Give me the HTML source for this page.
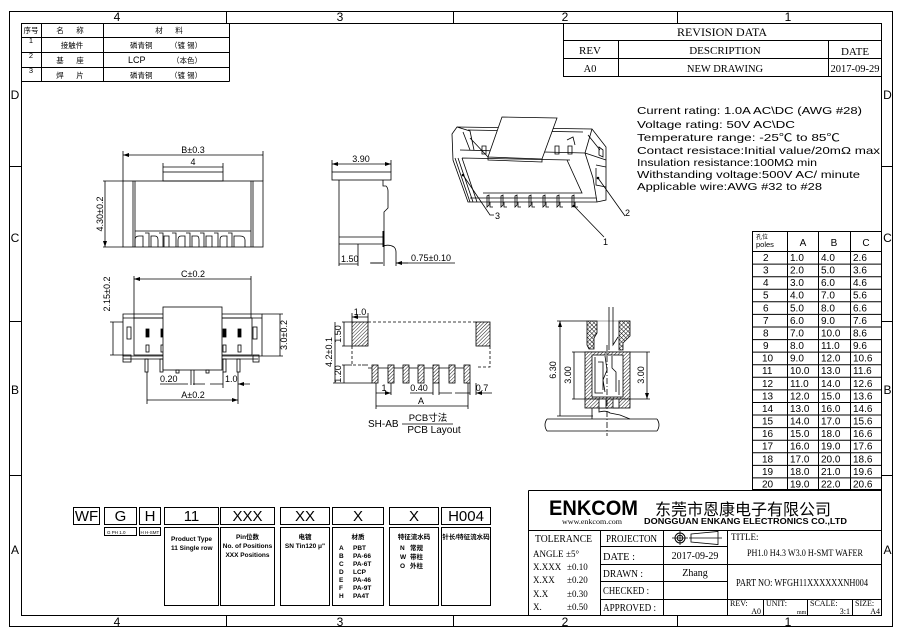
<!DOCTYPE html>
<html><head><meta charset="utf-8">
<style>
html,body{margin:0;padding:0;background:#fff;}
svg{display:block;}
text{font-family:"Liberation Sans","Noto Sans CJK SC",sans-serif;fill:#000;}
.s{font-family:"Liberation Serif","Noto Serif CJK SC",serif;}
.d{font-size:9px;}
</style></head><body>
<svg width="903" height="638" viewBox="0 0 903 638" xmlns="http://www.w3.org/2000/svg">
<defs>
<marker id="a" viewBox="0 0 6 4" refX="6" refY="2" markerWidth="6" markerHeight="4" orient="auto-start-reverse" markerUnits="userSpaceOnUse"><path d="M0,0 L6,2 L0,4 z" fill="#000"/></marker>
<pattern id="h" width="2.5" height="2.5" patternUnits="userSpaceOnUse" patternTransform="rotate(45)"><rect width="2.5" height="2.5" fill="#fff"/><line x1="0" y1="0" x2="0" y2="2.5" stroke="#000" stroke-width="0.9"/></pattern>
<pattern id="x" width="3" height="3" patternUnits="userSpaceOnUse" patternTransform="rotate(45)"><rect width="3" height="3" fill="#fff"/><path d="M0,0 V3 M0,0 H3" stroke="#000" stroke-width="0.9"/></pattern>
</defs>

<!-- FRAME -->
<g fill="none" stroke="#000" stroke-width="1">
<rect x="9.5" y="11.5" width="883" height="615"/>
<rect x="21.5" y="23.5" width="860" height="592"/>
<path d="M226.5,11.5V23.5M453.5,11.5V23.5M677.5,11.5V23.5M226.5,615.5V626.5M453.5,615.5V626.5M677.5,615.5V626.5"/>
<path d="M9.5,166.5H21.5M9.5,321.5H21.5M9.5,475.5H21.5M881.5,166.5H892.5M881.5,321.5H892.5M881.5,475.5H892.5"/>
</g>
<g font-size="12" text-anchor="middle">
<text x="117" y="21">4</text><text x="340" y="21">3</text><text x="565" y="21">2</text><text x="788" y="21">1</text>
<text x="117" y="626">4</text><text x="340" y="626">3</text><text x="565" y="626">2</text><text x="788" y="626">1</text>
<text x="15" y="99">D</text><text x="15" y="242">C</text><text x="15" y="394">B</text><text x="15" y="554">A</text>
<text x="887.5" y="99">D</text><text x="887.5" y="242">C</text><text x="887.5" y="394">B</text><text x="887.5" y="554">A</text>
</g>

<!-- TOP-LEFT MATERIAL TABLE -->
<g fill="none" stroke="#000" stroke-width="1">
<path d="M21.5,37.5H229.5M21.5,52.5H229.5M21.5,67.5H229.5M21.5,81.5H229.5M41.5,23.5V81.5M103.5,23.5V81.5M229.5,23.5V81.5"/>
</g>
<g font-size="7.5" text-anchor="middle">
<text x="31" y="33">序号</text><text x="60" y="33">名</text><text x="80" y="33">称</text>
<text x="159" y="33">材</text><text x="179" y="33">料</text>
<text x="31" y="43">1</text><text x="72" y="48">接触件</text>
<text x="31" y="58">2</text><text x="60" y="63">基</text><text x="80" y="63">座</text>
<text x="31" y="73">3</text><text x="60" y="78">焊</text><text x="80" y="78">片</text>
</g>
<g font-size="7.5">
<text x="130" y="48">磷青铜</text><text x="170" y="48">（镀 锡）</text>
<text x="128" y="63" font-size="9">LCP</text><text x="172" y="63">（本色）</text>
<text x="130" y="78">磷青铜</text><text x="170" y="78">（镀 锡）</text>
</g>

<!-- REVISION TABLE -->
<g fill="none" stroke="#000" stroke-width="1">
<path d="M563.5,23.5V76.5H881.5M563.5,40.5H881.5M563.5,58.5H881.5M618.5,40.5V76.5M828.5,40.5V76.5"/>
</g>
<g class="s" text-anchor="middle">
<text class="s" x="722" y="36" font-size="12">REVISION DATA</text>
<text class="s" x="590" y="54" font-size="11">REV</text>
<text class="s" x="725" y="54" font-size="11">DESCRIPTION</text>
<text class="s" x="855" y="55" font-size="11">DATE</text>
<text class="s" x="590" y="72" font-size="10.5">A0</text>
<text class="s" x="725" y="72" font-size="10.5">NEW DRAWING</text>
<text class="s" x="855" y="72" font-size="10.5">2017-09-29</text>
</g>

<!-- SPEC TEXT -->
<g font-size="10.5" fill="#111">
<text x="637" y="114" textLength="225" lengthAdjust="spacingAndGlyphs">Current rating: 1.0A AC\DC (AWG #28)</text>
<text x="637" y="128" textLength="158" lengthAdjust="spacingAndGlyphs">Voltage rating: 50V AC\DC</text>
<text x="637" y="141" textLength="203" lengthAdjust="spacingAndGlyphs">Temperature range: -25℃ to 85℃</text>
<text x="637" y="154" textLength="243" lengthAdjust="spacingAndGlyphs">Contact resistace:Initial value/20mΩ max</text>
<text x="637" y="166" textLength="180" lengthAdjust="spacingAndGlyphs">Insulation resistance:100MΩ min</text>
<text x="637" y="178" textLength="223" lengthAdjust="spacingAndGlyphs">Withstanding voltage:500V AC/ minute</text>
<text x="637" y="190" textLength="185" lengthAdjust="spacingAndGlyphs">Applicable wire:AWG #32 to #28</text>
</g>

<!-- POLE TABLE -->
<g fill="none" stroke="#000" stroke-width="1">
<rect x="752.5" y="231.5" width="129" height="258"/>
<path d="M787.5,231.5V490M818.5,231.5V490M850.5,231.5V490M752.5,251.5H881.5"/>
<path d="M752.5,264.1H881.5M752.5,276.7H881.5M752.5,289.2H881.5M752.5,301.8H881.5M752.5,314.4H881.5M752.5,327H881.5M752.5,339.6H881.5M752.5,352.1H881.5M752.5,364.7H881.5M752.5,377.3H881.5M752.5,389.9H881.5M752.5,402.5H881.5M752.5,415H881.5M752.5,427.6H881.5M752.5,440.2H881.5M752.5,452.8H881.5M752.5,465.4H881.5M752.5,477.9H881.5"/>
</g>
<text x="756" y="239" font-size="6" fill="#557">孔位</text>
<text x="756" y="247" font-size="7.5">poles</text>
<g font-size="10" text-anchor="middle"><text x="803" y="246">A</text><text x="834" y="246">B</text><text x="866" y="246">C</text></g>
<g font-size="10">
<text x="763" y="261">2</text><text x="790" y="261">1.0</text><text x="821" y="261">4.0</text><text x="853" y="261">2.6</text>
<text x="763" y="273.6">3</text><text x="790" y="273.6">2.0</text><text x="821" y="273.6">5.0</text><text x="853" y="273.6">3.6</text>
<text x="763" y="286.2">4</text><text x="790" y="286.2">3.0</text><text x="821" y="286.2">6.0</text><text x="853" y="286.2">4.6</text>
<text x="763" y="298.7">5</text><text x="790" y="298.7">4.0</text><text x="821" y="298.7">7.0</text><text x="853" y="298.7">5.6</text>
<text x="763" y="311.3">6</text><text x="790" y="311.3">5.0</text><text x="821" y="311.3">8.0</text><text x="853" y="311.3">6.6</text>
<text x="763" y="323.9">7</text><text x="790" y="323.9">6.0</text><text x="821" y="323.9">9.0</text><text x="853" y="323.9">7.6</text>
<text x="763" y="336.5">8</text><text x="790" y="336.5">7.0</text><text x="821" y="336.5">10.0</text><text x="853" y="336.5">8.6</text>
<text x="763" y="349.1">9</text><text x="790" y="349.1">8.0</text><text x="821" y="349.1">11.0</text><text x="853" y="349.1">9.6</text>
<text x="762" y="361.6">10</text><text x="790" y="361.6">9.0</text><text x="821" y="361.6">12.0</text><text x="853" y="361.6">10.6</text>
<text x="762" y="374.2">11</text><text x="790" y="374.2">10.0</text><text x="821" y="374.2">13.0</text><text x="853" y="374.2">11.6</text>
<text x="762" y="386.8">12</text><text x="790" y="386.8">11.0</text><text x="821" y="386.8">14.0</text><text x="853" y="386.8">12.6</text>
<text x="762" y="399.4">13</text><text x="790" y="399.4">12.0</text><text x="821" y="399.4">15.0</text><text x="853" y="399.4">13.6</text>
<text x="762" y="412">14</text><text x="790" y="412">13.0</text><text x="821" y="412">16.0</text><text x="853" y="412">14.6</text>
<text x="762" y="424.5">15</text><text x="790" y="424.5">14.0</text><text x="821" y="424.5">17.0</text><text x="853" y="424.5">15.6</text>
<text x="762" y="437.1">16</text><text x="790" y="437.1">15.0</text><text x="821" y="437.1">18.0</text><text x="853" y="437.1">16.6</text>
<text x="762" y="449.7">17</text><text x="790" y="449.7">16.0</text><text x="821" y="449.7">19.0</text><text x="853" y="449.7">17.6</text>
<text x="762" y="462.3">18</text><text x="790" y="462.3">17.0</text><text x="821" y="462.3">20.0</text><text x="853" y="462.3">18.6</text>
<text x="762" y="474.9">19</text><text x="790" y="474.9">18.0</text><text x="821" y="474.9">21.0</text><text x="853" y="474.9">19.6</text>
<text x="762" y="487.4">20</text><text x="790" y="487.4">19.0</text><text x="821" y="487.4">22.0</text><text x="853" y="487.4">20.6</text>
</g>

<!-- PART NUMBER BOXES -->
<g fill="none" stroke="#000" stroke-width="1">
<rect x="73.5" y="507.5" width="26" height="17"/>
<rect x="104.5" y="507.5" width="32" height="17"/>
<rect x="139.5" y="507.5" width="21" height="17"/>
<rect x="164.5" y="507.5" width="54" height="17"/>
<rect x="220.5" y="507.5" width="54" height="17"/>
<rect x="280.5" y="507.5" width="49" height="17"/>
<rect x="332.5" y="507.5" width="51" height="17"/>
<rect x="389.5" y="507.5" width="49" height="17"/>
<rect x="441.5" y="507.5" width="49" height="17"/>
<rect x="104.5" y="527.5" width="32" height="8"/>
<rect x="139.5" y="527.5" width="21" height="8"/>
<rect x="164.5" y="527.5" width="54" height="78"/>
<rect x="220.5" y="527.5" width="54" height="78"/>
<rect x="280.5" y="527.5" width="49" height="78"/>
<rect x="332.5" y="527.5" width="51" height="78"/>
<rect x="389.5" y="527.5" width="49" height="78"/>
<rect x="441.5" y="527.5" width="49" height="78"/>
</g>
<g font-size="15" text-anchor="middle">
<text x="86.5" y="521">WF</text><text x="120.5" y="521">G</text><text x="150" y="521">H</text>
<text x="191.5" y="521">11</text><text x="247.5" y="521">XXX</text><text x="305" y="521">XX</text>
<text x="358" y="521">X</text><text x="414" y="521">X</text><text x="466" y="521">H004</text>
</g>
<g font-size="4.5"><text x="107" y="534">G  PH 1.0</text><text x="140.5" y="534">H H-SMT</text></g>
<g font-size="6.5" font-weight="bold">
<text x="171" y="541">Product Type</text><text x="171" y="550">11  Single row</text>
<g text-anchor="middle"><text x="247.5" y="539">Pin位数</text><text x="247.5" y="548">No. of Positions</text><text x="247.5" y="557">XXX  Positions</text>
<text x="305" y="539">电镀</text><text x="305" y="548">SN Tin120 μ"</text>
<text x="358" y="539">材质</text>
<text x="414" y="539">特征流水码</text>
<text x="466" y="539">针长/特征流水码</text></g>
<text x="339" y="550">A</text><text x="353" y="550">PBT</text>
<text x="339" y="558">B</text><text x="353" y="558">PA-66</text>
<text x="339" y="566">C</text><text x="353" y="566">PA-6T</text>
<text x="339" y="574">D</text><text x="353" y="574">LCP</text>
<text x="339" y="582">E</text><text x="353" y="582">PA-46</text>
<text x="339" y="590">F</text><text x="353" y="590">PA-9T</text>
<text x="339" y="598">H</text><text x="353" y="598">PA4T</text>
<text x="400" y="550">N</text><text x="410" y="550">常规</text>
<text x="400" y="559">W</text><text x="410" y="559">带柱</text>
<text x="400" y="568">O</text><text x="410" y="568">外柱</text>
</g>

<!-- TITLE BLOCK -->
<g fill="none" stroke="#000" stroke-width="1">
<path d="M528.5,490.5H881.5M528.5,490.5V615.5M528.5,530.5H881.5M600.5,530.5V615.5M663.5,530.5V615.5M727.5,530.5V615.5"/>
<path d="M600.5,546.5H727.5M600.5,564.5H881.5M600.5,581.5H727.5M600.5,599.5H881.5M763.5,599.5V615.5M807.5,599.5V615.5M852.5,599.5V615.5"/>
<circle cx="680" cy="538" r="5"/><circle cx="680" cy="538" r="2.8"/>
<path d="M672,538H688M680,531V545M691,534L718,531.5V544.5L691,542ZM689,538H722" stroke-width="0.8"/>
</g>
<text x="549" y="515" font-size="21" font-weight="bold" textLength="89" lengthAdjust="spacingAndGlyphs">ENKCOM</text>
<text x="655" y="515" font-size="16" textLength="176" lengthAdjust="spacingAndGlyphs" fill="#222">东莞市恩康电子有限公司</text>
<text class="s" x="562" y="524" font-size="7" textLength="60" lengthAdjust="spacingAndGlyphs">www.enkcom.com</text>
<text x="644" y="524" font-size="8" font-weight="bold" textLength="203" lengthAdjust="spacingAndGlyphs">DONGGUAN  ENKANG  ELECTRONICS CO.,LTD</text>
<g class="s">
<text class="s" x="535" y="542" font-size="11" textLength="57" lengthAdjust="spacingAndGlyphs">TOLERANCE</text>
<text class="s" x="533" y="557" font-size="9">ANGLE</text><text class="s" x="566" y="557" font-size="9">±5°</text>
<text class="s" x="533" y="570" font-size="9">X.XXX</text><text class="s" x="567" y="570" font-size="9">±0.10</text>
<text class="s" x="533" y="583" font-size="9">X.XX</text><text class="s" x="567" y="583" font-size="9">±0.20</text>
<text class="s" x="533" y="597" font-size="9">X.X</text><text class="s" x="567" y="597" font-size="9">±0.30</text>
<text class="s" x="533" y="610" font-size="9">X.</text><text class="s" x="567" y="610" font-size="9">±0.50</text>
<text class="s" x="606" y="542" font-size="11" textLength="51" lengthAdjust="spacingAndGlyphs">PROJECTON</text>
<text class="s" x="603" y="560" font-size="11" textLength="32" lengthAdjust="spacingAndGlyphs">DATE :</text>
<text class="s" x="603" y="577" font-size="11" textLength="40" lengthAdjust="spacingAndGlyphs">DRAWN :</text>
<text class="s" x="603" y="594" font-size="11" textLength="46" lengthAdjust="spacingAndGlyphs">CHECKED :</text>
<text class="s" x="603" y="611" font-size="11" textLength="53" lengthAdjust="spacingAndGlyphs">APPROVED :</text>
<text class="s" x="695" y="559" font-size="10" text-anchor="middle">2017-09-29</text>
<text class="s" x="695" y="576" font-size="10" text-anchor="middle">Zhang</text>
<text class="s" x="731" y="540" font-size="9">TITLE:</text>
<text class="s" x="747" y="556" font-size="9" textLength="116" lengthAdjust="spacingAndGlyphs">PH1.0  H4.3 W3.0 H-SMT WAFER</text>
<text class="s" x="736" y="586" font-size="10" textLength="132" lengthAdjust="spacingAndGlyphs">PART NO:  WFGH11XXXXXXNH004</text>
<text class="s" x="730" y="606" font-size="8">REV:</text><text class="s" x="761" y="614" font-size="8" text-anchor="end">A0</text>
<text class="s" x="766" y="606" font-size="8">UNIT:</text><text class="s" x="797" y="614" font-size="6">mm</text>
<text class="s" x="810" y="606" font-size="8">SCALE:</text><text class="s" x="850" y="614" font-size="8" text-anchor="end">3:1</text>
<text class="s" x="855" y="606" font-size="8">SIZE:</text><text class="s" x="880" y="614" font-size="8" text-anchor="end">A4</text>
</g>

<!-- FRONT VIEW (top-left) -->
<g fill="none" stroke="#000" stroke-width="0.8">
<path d="M123,151V181M263,151V181M163,163V172M223,163V172M103,181H123M103,247H123"/>
<path d="M123,155H263M163,167H223M105,181V247" marker-start="url(#a)" marker-end="url(#a)"/>
<rect x="163" y="172" width="60" height="9"/>
<rect x="123" y="181" width="140" height="66"/>
<path d="M133,181V247M135,181V247M251,181V247M253,181V247M135,231H251"/>
<path d="M135,247V240Q135,236 139,236H143V247M151,247V236H155Q158,236 158,240V247M164,247V236H169V247M178,247V240Q178,236 181,236H185V247M192,247V236H197Q199,236 199,240V247M206,247V236H212V247M220,247V240Q220,236 223,236H227V247M234,247V236H240Q245,236 245,240V247"/>
<path d="M145,233H149V247M159,233H163V247M172,233H176V247M186,233H190V247M200,233H204V247M214,233H218V247M228,233H232V247"/>
</g>
<text class="d" x="193" y="153" text-anchor="middle">B±0.3</text>
<text class="d" x="193" y="165" text-anchor="middle">4</text>
<text class="d" transform="translate(103,214) rotate(-90)" text-anchor="middle">4.30±0.2</text>

<!-- SIDE VIEW -->
<g fill="none" stroke="#000" stroke-width="0.8">
<path d="M332,160V172M391,160V172"/>
<path d="M332,164H391" marker-start="url(#a)" marker-end="url(#a)"/>
<rect x="332" y="172" width="59" height="8"/>
<path d="M339,180V266M339,237H383M339,244H383M358,244V266M383,180V186H386Q388,188 388,191V208L384,212V266M383,246Q389,244 394,247Q396,249 396,252V266"/>
<path d="M383.5,231V247" stroke-width="2"/>
<path d="M339,264H358M370,263H383M396,263H455" />
<path d="M371,263H383M408,263H396" marker-end="url(#a)"/>
</g>
<text class="d" x="361" y="162" text-anchor="middle">3.90</text>
<text class="d" x="341" y="262">1.50</text>
<text class="d" x="411" y="261">0.75±0.10</text>

<!-- 3D VIEW -->
<g fill="none" stroke="#000" stroke-width="0.8">
<path d="M457,127L592,129L606,147V200L597,202H468L453,160L452,134Z"/>
<path d="M468,130L583,132M460,150L585,153M462,158L570,160M455,158L470,202M458,158L473,202M462,158L477,202"/>
<path d="M457,127L470,131L474,150M463,132L470,150M470,138L488,157M592,129L585,153L593,178L597,202M585,153L606,160M588,135L600,150M567,160L582,193H483M470,198H596M596,165L606,167M596,168V185L606,187"/>
<path d="M599,147L603,150V157L599,155Z"/>
<path d="M482,146h4v8h-4zM555,146h4v8h-4zM568,146h4v8h-4zM567,140l6,-3l2,8"/>
<polygon points="502,117 557,118 542,159 488,157" fill="#fff"/>
<path d="M488,157V160L542,162V159"/>
<path d="M487,196l2,-1v10l-2,2zM501,196l2,-1v10l-2,2zM515,196l2,-1v10l-2,2zM529,196l2,-1v10l-2,2zM543,196l2,-1v10l-2,2zM557,196l2,-1v10l-2,2zM572,196l2,-1v10l-2,2z"/>
<path d="M490,202v5h3M504,202v5h3M518,202v5h3M532,202v5h3M546,202v5h3M560,202v5h3M575,202v5h3"/>
<path d="M463,175L490,215H494M574,206L604,237M598,178L625,216"/>
</g>
<circle cx="463" cy="175" r="1.3"/><circle cx="574" cy="206" r="1.3"/><circle cx="598" cy="178" r="1.3"/>
<text class="d" x="495" y="219">3</text>
<text class="d" x="603" y="245">1</text>
<text class="d" x="625" y="216">2</text>

<!-- FRONT VIEW WITH CAP -->
<g fill="none" stroke="#000" stroke-width="0.8">
<path d="M134,276V318M251,276V318M110,322H123M110,355H123M262,314H283M262,356H283M147,372V404M238,372V404M223,372V388"/>
<path d="M134,279H251M113,322V355M280,314V356M147,400H238" marker-start="url(#a)" marker-end="url(#a)"/>
<path d="M123,356V314H262V356M123,318H262"/>
<rect x="134" y="318" width="118" height="37"/>
<path d="M123,359H258M123,356H262"/>
<rect x="123" y="355" width="8" height="7"/><rect x="253" y="355" width="6" height="7"/>
<rect x="127" y="327" width="4" height="12"/><rect x="253" y="327" width="4" height="12"/>
<rect x="146" y="329" width="3" height="8" fill="#000"/><rect x="161" y="329" width="3" height="8" fill="#000"/>
<rect x="223" y="329" width="3" height="8" fill="#000"/><rect x="238" y="329" width="3" height="8" fill="#000"/>
<rect x="146" y="345" width="3" height="7"/><rect x="161" y="345" width="3" height="7"/>
<rect x="223" y="345" width="3" height="7"/><rect x="238" y="345" width="3" height="7"/>
<rect x="145" y="359" width="3" height="13"/><rect x="160" y="359" width="3" height="13"/>
<rect x="223" y="359" width="3" height="13"/><rect x="237" y="359" width="3" height="13"/>
<rect x="163" y="307" width="59" height="63" fill="#fff"/>
<rect x="176" y="370" width="3" height="3"/><rect x="206" y="370" width="3" height="3"/>
<path d="M191,370V385M194,370V385"/>
<path d="M160,384H188M205,384H193M210,384H223M250,384H238" marker-end="url(#a)"/>
</g>
<text class="d" x="193" y="277" text-anchor="middle">C±0.2</text>
<text class="d" transform="translate(110,294) rotate(-90)" text-anchor="middle">2.15±0.2</text>
<text class="d" transform="translate(287,335) rotate(-90)" text-anchor="middle">3.0±0.2</text>
<text class="d" x="193" y="398" text-anchor="middle">A±0.2</text>
<text class="d" x="160" y="382">0.20</text>
<text class="d" x="225" y="382">1.0</text>

<!-- PCB LAYOUT -->
<g fill="none" stroke="#000" stroke-width="0.8">
<path d="M368,322H476M352,346V365H362M490,346V367H477" stroke-dasharray="3,2"/>
<path d="M362,365H368M368,368H468"/>
<rect x="352" y="322" width="16" height="24" fill="url(#h)"/>
<rect x="476" y="322" width="14" height="24" fill="url(#h)"/>
<g fill="url(#h)">
<rect x="372" y="365" width="6" height="18"/><rect x="388" y="365" width="6" height="18"/><rect x="403" y="365" width="6" height="18"/><rect x="418" y="365" width="6" height="18"/><rect x="433" y="365" width="6" height="18"/><rect x="449" y="365" width="6" height="18"/><rect x="464" y="365" width="6" height="18"/>
</g>
<path d="M352,313V322M368,313V322M342,322H352M342,346H352M333,383H372M376,383V409M391,383V395M433,383V395M439,383V395M470,383V395M476,383V395M468,383V409M342,365H352"/>
<path d="M352,317H368M335,322V383M344,322V346M344,365V383M376,406H468M376,393H391" marker-start="url(#a)" marker-end="url(#a)"/>
<path d="M410,393H433M452,393H439M455,393H470M492,393H476" marker-end="url(#a)"/>
<path d="M402,424H453"/>
</g>
<text class="d" x="360" y="315" text-anchor="middle">1.0</text>
<text class="d" transform="translate(341,334) rotate(-90)" text-anchor="middle">1.50</text>
<text class="d" transform="translate(332,352) rotate(-90)" text-anchor="middle">4.2±0.1</text>
<text class="d" transform="translate(341,374) rotate(-90)" text-anchor="middle">1.20</text>
<text class="d" x="384" y="391" text-anchor="middle">1</text>
<text class="d" x="419" y="391" text-anchor="middle">0.40</text>
<text class="d" x="482" y="391" text-anchor="middle">0.7</text>
<text class="d" x="421" y="404" text-anchor="middle">A</text>
<text x="368" y="427" font-size="10">SH-AB</text>
<text x="428" y="421" font-size="9.5" text-anchor="middle">PCB寸法</text>
<text x="434" y="433" font-size="10" text-anchor="middle">PCB Layout</text>

<!-- SECTION VIEW -->
<g fill="none" stroke="#000" stroke-width="0.8">
<path d="M557,321H587M557,416H593M572,352H650M572,399H650"/>
<path d="M560,321V416M574,352V399M647,352V399" marker-start="url(#a)" marker-end="url(#a)"/>
<path d="M587,321H630" stroke="#888"/>
<path d="M587,321H597V333L594,338V349H589L587,345Z" fill="url(#x)"/>
<path d="M619,321H630V336L623,343V350H619Z" fill="url(#x)"/>
<path d="M609,307V350M613,307V345L618,337"/>
<rect x="585" y="352" width="45" height="47" fill="url(#h)"/>
<rect x="592" y="355" width="31" height="42" fill="#fff"/>
<rect x="585" y="399" width="45" height="9" fill="url(#h)"/>
<rect x="599" y="399" width="7" height="9" fill="#fff"/><rect x="613" y="399" width="6" height="9" fill="#fff"/>
<path d="M595,357V393H603M598,362H603V390M605,356L607,370L603,380L605,392M612,356V368L616,372V392M619,380V395"/>
<path d="M592,408V419M599,408V412Q606,410 610,413L620,415Q625,417 630,419"/>
<path d="M547,419H657M547,431H657M547,419Q543,425 547,431M657,419Q661,425 657,431"/>
<path d="M607,345V436" stroke-dasharray="6,2,1,2"/>
</g>
<text class="d" transform="translate(556,370) rotate(-90)" text-anchor="middle">6.30</text>
<text class="d" transform="translate(571,375) rotate(-90)" text-anchor="middle">3.00</text>
<text class="d" transform="translate(644,375) rotate(-90)" text-anchor="middle">3.00</text>
</svg>
</body></html>
